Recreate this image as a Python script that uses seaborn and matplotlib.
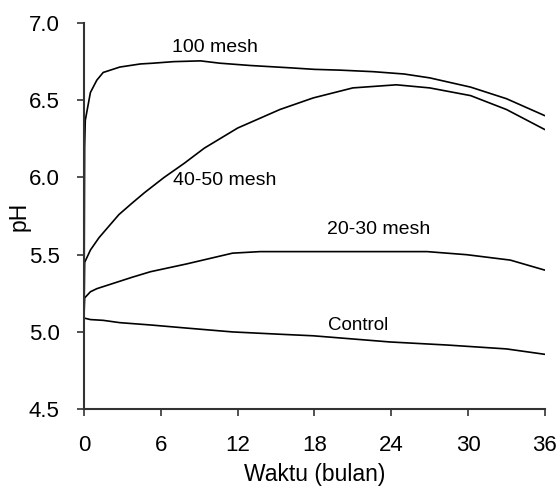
import matplotlib
matplotlib.use("Agg")
import matplotlib.pyplot as plt
import seaborn as sns
import pandas as pd

# Data
t_100 = [0, 0.05, 0.1, 0.5, 1.0, 1.5, 2.8, 4.4, 5.4, 7, 9.1, 10.6, 13, 16.1, 18, 20, 22.6, 25, 27, 30.2, 33, 36]
ph_100 = [5.1, 6.2, 6.37, 6.55, 6.63, 6.68, 6.715, 6.735, 6.74, 6.75, 6.755, 6.74, 6.725, 6.71, 6.70, 6.695, 6.685, 6.67, 6.645, 6.585, 6.51, 6.40]

t_4050 = [0, 0.05, 0.5, 1.17, 2, 2.73, 3.7, 4.7, 6.25, 7.8, 9.4, 12, 15.3, 17.9, 21, 24.4, 27, 30.2, 33, 36]
ph_4050 = [5.1, 5.45, 5.53, 5.61, 5.69, 5.76, 5.83, 5.90, 6.0, 6.09, 6.19, 6.32, 6.44, 6.515, 6.58, 6.60, 6.58, 6.53, 6.44, 6.31]

t_2030 = [0, 0.05, 0.5, 1, 3.8, 5.2, 8, 11.6, 13.75, 20, 26.8, 29.9, 33.3, 36]
ph_2030 = [5.1, 5.22, 5.26, 5.28, 5.355, 5.39, 5.44, 5.51, 5.52, 5.52, 5.52, 5.50, 5.465, 5.40]

t_ctrl = [0, 0.5, 1.5, 2.8, 5.2, 8, 11.6, 15.3, 17.9, 23.9, 28.4, 33, 36]
ph_ctrl = [5.09, 5.08, 5.075, 5.06, 5.045, 5.025, 5.0, 4.985, 4.975, 4.935, 4.915, 4.89, 4.855]

series_names = ["100 mesh", "40-50 mesh", "20-30 mesh", "Control"]
label_x = [10.2, 11.0, 23.0, 21.4]
label_y = [6.84, 5.98, 5.66, 5.04]

x_ticks = [0, 6, 12, 18, 24, 30, 36]
y_ticks = [4.5, 5.0, 5.5, 6.0, 6.5, 7.0]

frames = []
for name, t, p in zip(series_names, [t_100, t_4050, t_2030, t_ctrl], [ph_100, ph_4050, ph_2030, ph_ctrl]):
    frames.append(pd.DataFrame({"t": t, "pH": p, "series": name}))
df = pd.concat(frames, ignore_index=True)

sns.set_style("ticks")
plt.rcParams["font.family"] = ["Liberation Sans", "DejaVu Sans"]

fig = plt.figure(figsize=(5.6, 4.9), dpi=100)
ax = fig.add_axes([0.15, 0.165, 0.823, 0.788])

sns.lineplot(data=df, x="t", y="pH", hue="series", units="series", estimator=None,
             palette={n: "black" for n in series_names}, legend=False, linewidth=1.2,
             sort=True, ax=ax)

label_sizes = [14, 14, 14, 13.5]
for name, lx, ly, fs in zip(series_names, label_x, label_y, label_sizes):
    ax.text(lx, ly, name, ha="center", va="center", fontsize=fs, color="black")

ax.set_xlim(0, 36)
ax.set_ylim(4.5, 7.0)
ax.set_xticks(x_ticks)
ax.set_yticks(y_ticks)
ax.set_yticklabels([f"{v:.1f}" for v in y_ticks])
ax.tick_params(axis="both", labelsize=16, direction="out", length=5, width=1.2,
               color="#333333", labelcolor="black")
ax.tick_params(axis="x", pad=13.5)
ax.tick_params(axis="y", pad=12.5)
ax.set_xlabel("Waktu (bulan)", fontsize=16.5, labelpad=5.5, color="black")
ax.set_ylabel("pH", fontsize=16.5, color="black")
ax.yaxis.set_label_coords(-0.117, 0.5)
for s in ["top", "right"]:
    ax.spines[s].set_visible(False)
for s in ["left", "bottom"]:
    ax.spines[s].set_linewidth(1.5)
    ax.spines[s].set_color("#333333")

fig.savefig("out.png", dpi=100)
